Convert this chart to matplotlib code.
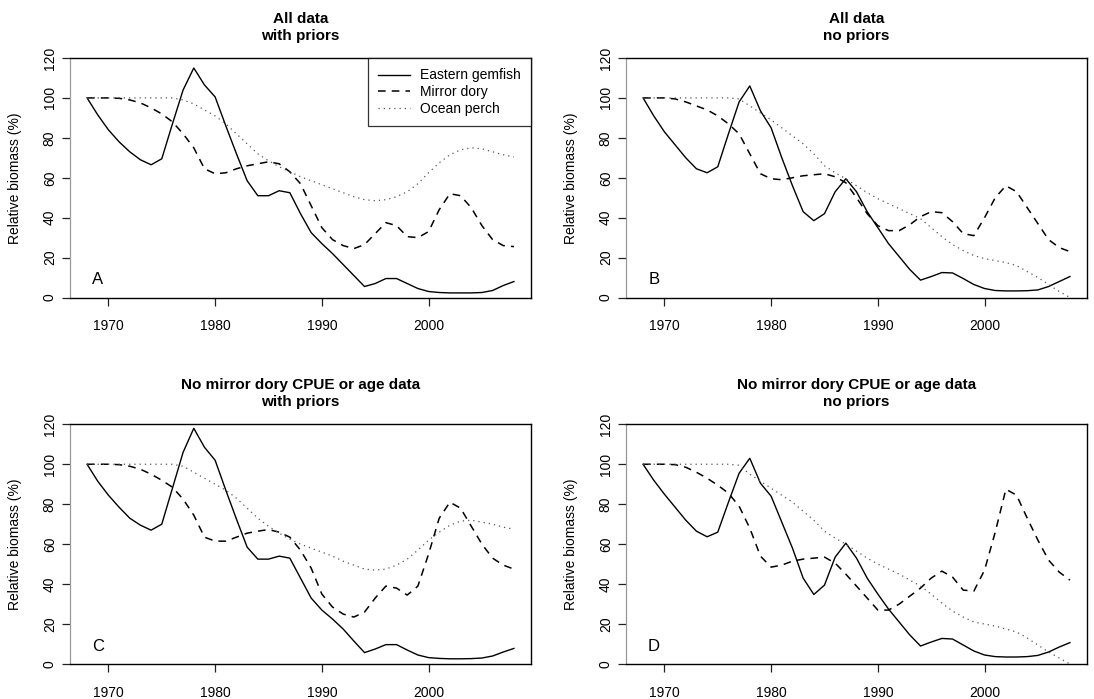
import matplotlib
matplotlib.use('Agg')
import matplotlib.pyplot as plt

years = list(range(1968, 2009))

# ---- panel A: all data, with priors
gem_a = [100, 91.5, 84, 78, 73, 69, 66.5, 69.5, 87, 104, 115, 106.5, 100.5, 86, 72, 58.5, 51, 51, 53.5, 52.5,
         42, 32.5, 27, 22, 16.5, 11, 5.5, 7, 9.5, 9.5, 7, 4.5, 3, 2.5, 2.3, 2.3, 2.3, 2.5, 3.5, 6, 8]
dory_a = [100, 100, 100, 99.8, 99, 97.5, 95, 92, 88, 82, 75, 64.5, 62, 62.5, 64.5, 66, 67, 68, 67, 63,
          57, 46, 35, 29, 26, 24.5, 26.5, 32, 37.5, 36, 30.5, 30, 33, 44, 52, 51, 45, 36, 29, 26, 25.5]
perch_a = [100, 100, 100, 100, 100, 100, 100, 100, 100, 99, 97, 94, 91, 87, 82, 77, 72, 68.5, 65.5, 63,
           60.5, 58.5, 56.5, 54.5, 52.5, 50.5, 49, 48.5, 49, 50.5, 53, 57, 62.5, 67.5, 71.5, 74, 75, 74.5, 73, 71.5, 70.5]

# ---- panel B: all data, no priors
gem_b = [100, 91, 83, 76.5, 70, 64.5, 62.5, 65.5, 82, 98, 106, 93.5, 85, 70, 56, 43, 38.5, 42, 53, 59.5,
         53, 43, 35, 27, 20.5, 14, 8.7, 10.5, 12.5, 12.3, 9.5, 6.5, 4.5, 3.5, 3.3, 3.3, 3.4, 3.8, 5.5, 8, 10.5]
dory_b = [100, 100, 100, 99.5, 98, 96, 94, 91, 87, 82, 72, 62, 59.5, 59, 60, 61, 61.5, 62, 60.5, 57.5,
          50, 42, 36, 33.5, 33.5, 36.5, 40.5, 43, 42.5, 38, 32, 31, 40, 50, 56, 53, 45, 37, 29, 25, 23]
perch_b = [100, 100, 100, 100, 100, 100, 100, 100, 100, 99.5, 96, 92.5, 89, 85, 81, 77, 72, 66, 62.5, 59.5,
           56, 52.5, 49.5, 47, 44.5, 42, 39.5, 35, 30.5, 26.5, 23.5, 21, 19.5, 18.5, 17.5, 16, 13, 10, 6.5, 3, 0]

# ---- panel C: no mirror dory CPUE or age data, with priors
gem_c = [100, 91.5, 84.5, 78.5, 73, 69.5, 67, 70, 88, 106, 118, 108.5, 102, 87, 72.5, 58.5, 52.5, 52.5, 54, 53,
         43, 33, 27, 22.5, 17.5, 11.5, 5.7, 7.5, 9.7, 9.7, 7, 4.5, 3.2, 2.8, 2.6, 2.6, 2.7, 3, 4, 6, 7.8]
dory_c = [100, 100, 100, 99.8, 99, 97.5, 95, 92, 88.5, 82.5, 74.5, 63.5, 61.5, 61.5, 63.5, 65.5, 66.5, 67.3, 66, 63.5,
          57, 48, 35, 28.5, 25, 23.5, 26, 33, 39, 38, 34.5, 39, 55, 73, 81, 78, 69, 60, 53, 49.5, 47.5]
perch_c = [100, 100, 100, 100, 100, 100, 100, 100, 100, 99, 96, 93, 90, 87, 83, 78, 73, 69, 65.5, 62.5,
           60, 58, 56, 54, 51.5, 49.5, 47.5, 47, 47.5, 49.5, 52.5, 57, 62, 66, 69.5, 71.5, 72, 71, 70, 68.5, 67.5]

# ---- panel D: no mirror dory CPUE or age data, no priors
gem_d = [100, 92, 85, 78.5, 72, 66.5, 63.7, 66, 81, 95.5, 103, 90.5, 84, 71, 58, 43, 34.8, 39.5, 53.5, 60.5,
         53, 43, 35, 27.5, 21, 14.5, 9, 11, 12.8, 12.5, 9.5, 6.5, 4.5, 3.7, 3.5, 3.5, 3.7, 4.3, 6, 8.5, 10.7]
dory_d = [100, 100, 100, 99.8, 98.5, 96, 93, 89.5, 85.5, 79, 68, 54, 48.5, 49.5, 51.5, 52.5, 53, 53.5, 50.5, 45,
          39, 33, 27, 27, 30, 34, 38, 43, 46.5, 43.5, 37, 36.5, 47, 66, 87.5, 84.5, 73, 62, 52, 46, 42]
perch_d = [100, 100, 100, 100, 100, 100, 100, 100, 100, 99.5, 95, 91.5, 88, 84.5, 81, 76.5, 72, 66.5, 63, 60,
           56.5, 53, 50, 47.5, 45, 42, 39, 35, 30.5, 26.5, 23.5, 21, 20, 19, 17.5, 16, 13, 9.5, 6, 3, 0]

species = ['Eastern gemfish', 'Mirror dory', 'Ocean perch']
titles = ['All data\nwith priors', 'All data\nno priors',
          'No mirror dory CPUE or age data\nwith priors', 'No mirror dory CPUE or age data\nno priors']
letters = ['A', 'B', 'C', 'D']
panels = [(gem_a, dory_a, perch_a), (gem_b, dory_b, perch_b),
          (gem_c, dory_c, perch_c), (gem_d, dory_d, perch_d)]
xticks = [1970, 1980, 1990, 2000]
yticks = [0, 20, 40, 60, 80, 100, 120]

plt.rcParams['font.family'] = ['Liberation Sans', 'DejaVu Sans']

W, H = 1094, 699
fig = plt.figure(figsize=(W / 100, H / 100), dpi=100)

# axes boxes in pixels: left, top, right, bottom
boxes = [(70, 58, 531, 297.5), (626, 58, 1087, 297.5),
         (70, 424.3, 531, 664), (626, 424.3, 1087, 664)]

for i, (l, t, r, b) in enumerate(boxes):
    ax = fig.add_axes([l / W, 1 - b / H, (r - l) / W, (b - t) / H])
    gem, dory, perch = panels[i]
    ax.plot(years, gem, color='black', lw=1.0, label=species[0])
    ax.plot(years, dory, color='black', lw=1.1, dashes=(5, 4), label=species[1])
    ax.plot(years, perch, color='#555555', lw=0.9, dashes=(1, 3.2), label=species[2])

    ax.set_xlim(1966.4, 2009.6)
    ax.set_ylim(0, 120)
    ax.set_xticks(xticks)
    ax.set_yticks(yticks)
    ax.tick_params(axis='both', direction='out', length=5.5, width=0.9, labelsize=10, color='#222222')
    ax.tick_params(axis='x', pad=10)
    ax.tick_params(axis='y', pad=9)
    plt.setp(ax.get_yticklabels(), rotation=90, va='center', ha='center')

    for s in ['top', 'right', 'bottom']:
        ax.spines[s].set_linewidth(1.0)
        ax.spines[s].set_color('black')
    ax.spines['left'].set_color('#999999')
    ax.spines['left'].set_linewidth(0.9)

    ax.set_ylabel('Relative biomass (%)', fontsize=10)
    ax.yaxis.set_label_coords(-0.105, 0.5)
    ax.set_title(titles[i], fontsize=11, fontweight='bold', pad=13, linespacing=1.3)
    ax.text(1969.0, 9, letters[i], fontsize=12, ha='center', va='center')

    if i == 0:
        leg = ax.legend(loc='upper right', fontsize=10, frameon=True, fancybox=False,
                        borderaxespad=0, handlelength=2.3, handletextpad=0.7,
                        borderpad=0.75, labelspacing=0.2)
        leg.get_frame().set_edgecolor('black')
        leg.get_frame().set_linewidth(0.9)

fig.savefig('out.png', dpi=100)
